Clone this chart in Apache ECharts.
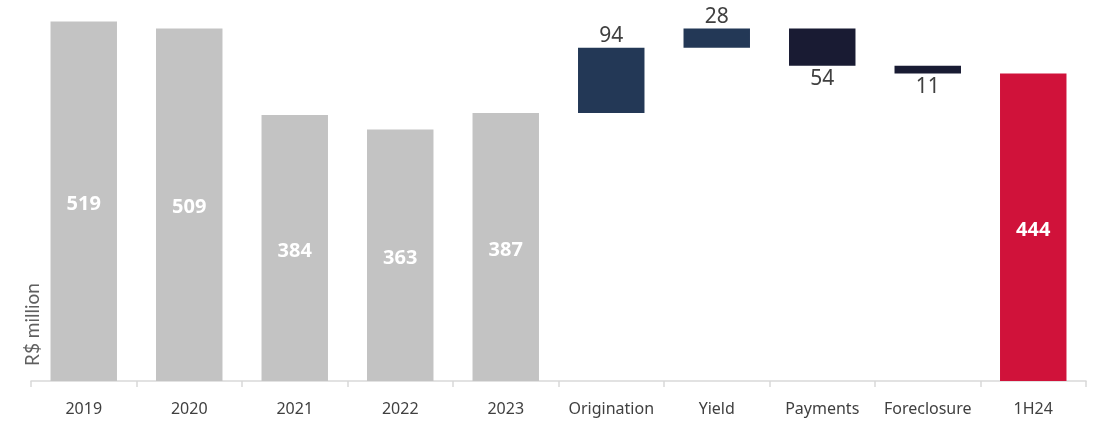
<!DOCTYPE html>
<html>
<head>
<meta charset="utf-8">
<script src="https://cdn.jsdelivr.net/npm/echarts@6/dist/echarts.min.js"></script>
<style>
  html, body { margin: 0; padding: 0; background: #fff; }
  #chart { width: 1094px; height: 422px; }
</style>
</head>
<body>
<div id="chart"></div>
<script>
// Portfolio bridge, R$ million
const categories = ['2019', '2020', '2021', '2022', '2023', 'Origination', 'Yield', 'Payments', 'Foreclosure', '1H24'];
const yearTotals = [519, 509, 384, 363, 387];
const bridgeSteps = [94, 28, -54, -11];   // Origination, Yield, Payments, Foreclosure
const closingTotal = 444;

const GREY = '#c3c3c3';
const NAVY = '#233856';
const DARK = '#191b33';
const RED = '#d0123a';
const FONT = '"Noto Sans", "DejaVu Sans", sans-serif';

// Build invisible offsets and visible segments for the waterfall
const baseData = [];
const valueData = [];
const insideLabel = { show: true, position: 'inside', offset: [0, 3], color: '#fff', fontWeight: 'bold', fontSize: 20 };
yearTotals.forEach(v => {
  baseData.push(0);
  valueData.push({ value: v, itemStyle: { color: GREY }, label: insideLabel });
});
let running = yearTotals[yearTotals.length - 1];
bridgeSteps.forEach(d => {
  const up = d >= 0;
  const start = running;
  running += d;
  baseData.push(Math.min(start, running));
  valueData.push({
    value: Math.abs(d),
    itemStyle: { color: up ? NAVY : DARK },
    label: { show: true, position: up ? 'top' : 'bottom', distance: up ? 1 : 3, color: '#404040', fontSize: 21 }
  });
});
baseData.push(0);
valueData.push({ value: closingTotal, itemStyle: { color: RED }, label: insideLabel });

const chart = echarts.init(document.getElementById('chart'), null, { renderer: 'canvas' });
chart.setOption({
  animation: false,
  textStyle: { fontFamily: FONT },
  grid: { left: 31, right: 8, top: 7, bottom: 41, containLabel: false },
  xAxis: {
    type: 'category',
    data: categories,
    axisLine: { lineStyle: { color: '#d9d9d9', width: 1.5 } },
    axisTick: { show: true, interval: 0, length: 6, lineStyle: { color: '#d9d9d9', width: 1.5 } },
    axisLabel: { interval: 0, color: '#404040', fontSize: 16, margin: 20, fontFamily: FONT }
  },
  yAxis: {
    type: 'value',
    min: 0,
    max: 540,
    show: false
  },
  series: [
    {
      type: 'bar',
      stack: 'w',
      data: baseData,
      itemStyle: { color: 'transparent' },
      emphasis: { disabled: true },
      barCategoryGap: '37%',
      silent: true
    },
    {
      type: 'bar',
      stack: 'w',
      data: valueData,
      barCategoryGap: '37%',
      label: { fontFamily: FONT }
    }
  ],
  graphic: [
    {
      type: 'text',
      rotation: Math.PI / 2,
      x: 23,
      y: 366,
      style: {
        text: 'R$ million',
        fill: '#5f5f5f',
        font: '19px Lato, ' + FONT,
        textAlign: 'left',
        textVerticalAlign: 'top'
      }
    }
  ]
});
</script>
</body>
</html>
